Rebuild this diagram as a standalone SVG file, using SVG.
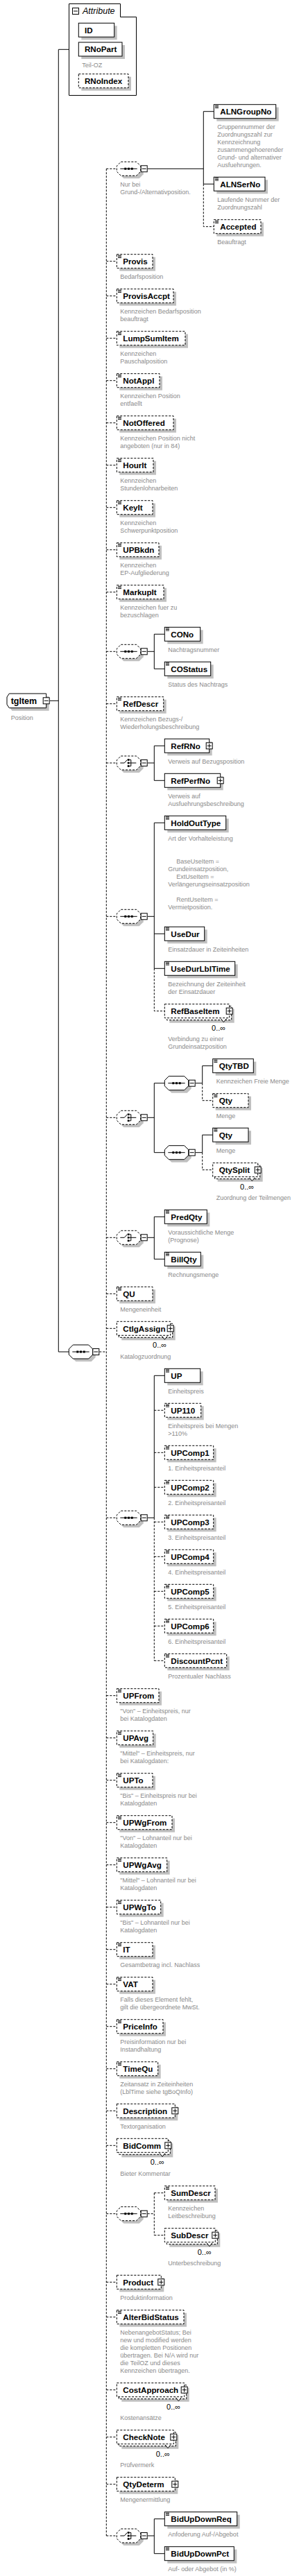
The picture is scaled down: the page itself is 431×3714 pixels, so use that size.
<svg xmlns="http://www.w3.org/2000/svg" xmlns:xlink="http://www.w3.org/1999/xlink" width="431" height="3714" viewBox="0 0 431 3714">
<style>
.nm{font-family:"Liberation Sans",Arial,sans-serif;font-weight:bold;font-size:11.6px;fill:#000}
.ds{font-family:"Liberation Sans",Arial,sans-serif;font-size:9px;fill:#8a8a8a}
.oc{font-family:"Liberation Sans",Arial,sans-serif;font-size:11px;fill:#000;text-anchor:end}
.at{font-family:"Liberation Sans",Arial,sans-serif;font-style:italic;font-size:12.5px;fill:#000}
.bs{fill:#fff;stroke:#000;stroke-width:1}
.bd{fill:#fff;stroke:#000;stroke-width:1;stroke-dasharray:3 2}
.sh{fill:#c0c0c0;stroke:none}
.s{fill:none;stroke:#000;stroke-width:1}
.d{fill:none;stroke:#000;stroke-width:1;stroke-dasharray:3 2}
.nt{fill:#fff;stroke:#000;stroke-width:1}
</style>
<defs>
<g id="ic"><path d="M0,0.5h5M0,2.2h5M0,3.9h5" stroke="#000" stroke-width="0.9" fill="none"/></g>
<g id="mn"><rect x="0.5" y="0.5" width="9" height="9" fill="#fff" stroke="#000"/><path d="M2,5h6" stroke="#000"/></g>
<g id="pl"><rect x="0.5" y="0.5" width="9" height="9" fill="#fff" stroke="#000"/><path d="M2,5h6M5,2v6" stroke="#000"/></g>
<path id="oct" d="M6,-10H28.4L34.4,-4V4L28.4,10H6L0,4V-4Z"/>
<g id="seqI"><path d="M5,0H29.4" stroke="#000" fill="none"/><rect x="11" y="-1.5" width="3" height="3" fill="#000"/><rect x="15.7" y="-1.5" width="3" height="3" fill="#000"/><rect x="20.4" y="-1.5" width="3" height="3" fill="#000"/></g>
<g id="chI"><path d="M5,0H11L15,-4.5M18.2,-4.5H20.5V4.5H18.2M18.2,0H28" stroke="#000" fill="none"/><rect x="15.5" y="-5.85" width="2.7" height="2.7" fill="#000"/><rect x="15.5" y="-1.35" width="2.7" height="2.7" fill="#000"/><rect x="15.5" y="3.15" width="2.7" height="2.7" fill="#000"/></g>
</defs>
<rect x="0" y="0" width="431" height="3714" fill="#fff"/>

<g id="connectors">
<path class="s" d="M71.7,1010.3H84.3M84.3,71.3V1949M84.3,71.3H99.5M84.3,1949H99.3"/>
<path class="d" d="M143.3,1949H153.3M153.3,243.3V3656"/>
<path class="d" d="M153.3,243.3H168.3M153.3,376.7H168.3M153.3,426.7H168.3M153.3,487.7H168.3M153.3,548.7H168.3M153.3,609.7H168.3M153.3,670.7H168.3M153.3,731.7H168.3M153.3,792.7H168.3M153.3,853.7H168.3M153.3,939.3H168.3M153.3,1014.7H168.3M153.3,1100H168.3M153.3,1321.3H168.3M153.3,1611.3H168.3M153.3,1784.3H168.3M153.3,1865.3H168.3M153.3,1915.3H168.3M153.3,2188.3H168.3M153.3,2444.7H168.3M153.3,2505.7H168.3M153.3,2566.7H168.3M153.3,2627.7H168.3M153.3,2688.7H168.3M153.3,2749.7H168.3M153.3,2810.7H168.3M153.3,2860.7H168.3M153.3,2921.7H168.3M153.3,2982.7H168.3M153.3,3043.3H168.3M153.3,3093.3H168.3M153.3,3191.7H168.3M153.3,3290.3H168.3M153.3,3340.7H168.3M153.3,3445.7H168.3M153.3,3513.7H168.3M153.3,3581.7H168.3M153.3,3656H168.3"/>
<path class="s" d="M212.7,243.3H293.3M293.3,160.7V265.3M293.3,160.7H308.3M293.3,265.3H308.3"/>
<path class="d" d="M293.3,265.3V326.7H308.3"/>
<path class="s" d="M212.7,939.3H222.3M222.3,914.3V964.3M222.3,914.3H237.3M222.3,964.3H237.3"/>
<path class="s" d="M212.7,1100H222.3M222.3,1075.3V1125.3M222.3,1075.3H237.3M222.3,1125.3H237.3"/>
<path class="s" d="M212.7,1321.3H222.3M222.3,1186.3V1396.3M222.3,1186.3H237.3M222.3,1346.3H237.3M222.3,1396.3H237.3"/>
<path class="d" d="M222.3,1396.3V1457.7H237.3"/>
<path class="s" d="M212.7,1611.3H222.3M222.3,1561.7V1661.7M222.3,1561.7H237.3M222.3,1661.7H237.3"/>
<path class="s" d="M281.7,1561.7H291.7M291.7,1536.7V1561.7M291.7,1536.7H306.7"/>
<path class="d" d="M291.7,1561.7V1586.7H306.7"/>
<path class="s" d="M281.7,1661.7H291.7M291.7,1636.3V1661.7M291.7,1636.3H306.7"/>
<path class="d" d="M291.7,1661.7V1686.7H306.7"/>
<path class="s" d="M212.7,1784.3H222.3M222.3,1754.3V1815.3M222.3,1754.3H237.3M222.3,1815.3H237.3"/>
<path class="s" d="M212.7,2188.3H222.3M222.3,1983.3V2188.3M222.3,1983.3H237.3"/>
<path class="d" d="M222.3,2188.3V2394.3M222.3,2033.3H237.3M222.3,2094.3H237.3M222.3,2144.3H237.3M222.3,2194.3H237.3M222.3,2244.3H237.3M222.3,2294.3H237.3M222.3,2344.3H237.3M222.3,2394.3H237.3"/>
<path class="d" d="M212.7,3191.7H222.3M222.3,3161.7V3222.7M222.3,3161.7H237.3M222.3,3222.7H237.3"/>
<path class="s" d="M212.7,3656H222.3M222.3,3631.7V3681.7M222.3,3631.7H237.3M222.3,3681.7H237.3"/>
</g>

<g id="attributes">
<path class="bs" d="M99.5,5.5H173.5V24.5H196.5V137.5H99.5Z"/>
<use href="#mn" x="104" y="11"/>
<text class="at" x="119" y="19.5">Attribute</text>
<g id="a-ID"><rect class="sh" x="117.3" y="37.3" width="51.4" height="20"/><rect class="bs" x="113.3" y="33.3" width="51.4" height="20"/><text class="nm" x="122" y="47.6">ID</text></g>
<g id="a-RNoPart"><rect class="sh" x="117.3" y="65" width="62.7" height="20"/><rect class="bs" x="113.3" y="61" width="62.7" height="20"/><text class="nm" x="122" y="75.3">RNoPart</text><text class="ds" x="118.3" y="96.5">Teil-OZ</text></g>
<g id="a-RNoIndex"><rect class="sh" x="117.3" y="110.7" width="71.7" height="20"/><rect class="bd" x="113.3" y="106.7" width="71.7" height="20"/><text class="nm" x="122" y="121">RNoIndex</text></g>
</g>

<g id="n-tgItem">
<path class="sh" d="M17.3,1004H70.7V1024.7H17.3L14,1019.7V1009Z"/>
<path class="bs" d="M13.3,1000H66.7V1020.7H13.3L10,1015.7V1005Z"/>
<text class="nm" style="font-size:12.5px" x="15.7" y="1014.8">tgItem</text>
<use href="#mn" x="61.7" y="1005.3"/>
<text class="ds" x="15.7" y="1038">Position</text>
</g>

<g id="seq-main"><use href="#oct" class="sh" x="103.3" y="1953"/><use href="#oct" class="bs" x="99.3" y="1949"/><use href="#seqI" x="99.3" y="1949"/><use href="#mn" x="133.3" y="1944"/></g>

<g id="seq-ALN"><use href="#oct" class="sh" x="172.3" y="247.3"/><use href="#oct" class="bd" x="168.3" y="243.3"/><use href="#seqI" x="168.3" y="243.3"/><use href="#mn" x="202.7" y="238.3"/><text class="ds" x="173.3" y="269">Nur bei</text><text class="ds" x="173.3" y="280">Grund-/Alternativposition.</text></g>

<g id="n-ALNGroupNo"><rect class="sh" x="312.3" y="154.7" width="89.4" height="20"/><rect class="bs" x="308.3" y="150.7" width="89.4" height="20"/><use href="#ic" x="310" y="151.7"/><text class="nm" x="317.3" y="165">ALNGroupNo</text><text class="ds" x="313.3" y="186">Gruppennummer der</text><text class="ds" x="313.3" y="197">Zuordnungszahl zur</text><text class="ds" x="313.3" y="208">Kennzeichnung</text><text class="ds" x="313.3" y="219">zusammengehoerender</text><text class="ds" x="313.3" y="230">Grund- und alternativer</text><text class="ds" x="313.3" y="241">Ausfuehrungen.</text></g>
<g id="n-ALNSerNo"><rect class="sh" x="312.3" y="259.3" width="73.7" height="20"/><rect class="bs" x="308.3" y="255.3" width="73.7" height="20"/><use href="#ic" x="310" y="256.3"/><text class="nm" x="317.3" y="269.6">ALNSerNo</text><text class="ds" x="313.3" y="290.6">Laufende Nummer der</text><text class="ds" x="313.3" y="301.6">Zuordnungszahl</text></g>
<g id="n-Accepted"><rect class="sh" x="312.3" y="320.7" width="67.7" height="20"/><rect class="bd" x="308.3" y="316.7" width="67.7" height="20"/><use href="#ic" x="310" y="317.7"/><text class="nm" x="317.3" y="331">Accepted</text><text class="ds" x="313.3" y="352">Beauftragt</text></g>

<g id="n-Provis"><rect class="sh" x="172.3" y="370.7" width="51.7" height="20"/><rect class="bd" x="168.3" y="366.7" width="51.7" height="20"/><use href="#ic" x="170" y="367.7"/><text class="nm" x="177.3" y="381">Provis</text><text class="ds" x="173.3" y="402">Bedarfsposition</text></g>
<g id="n-ProvisAccpt"><rect class="sh" x="172.3" y="420.7" width="81.7" height="20"/><rect class="bd" x="168.3" y="416.7" width="81.7" height="20"/><use href="#ic" x="170" y="417.7"/><text class="nm" x="177.3" y="431">ProvisAccpt</text><text class="ds" x="173.3" y="452">Kennzeichen Bedarfsposition</text><text class="ds" x="173.3" y="463">beauftragt</text></g>
<g id="n-LumpSumItem"><rect class="sh" x="172.3" y="481.7" width="98.7" height="20"/><rect class="bd" x="168.3" y="477.7" width="98.7" height="20"/><use href="#ic" x="170" y="478.7"/><text class="nm" x="177.3" y="492">LumpSumItem</text><text class="ds" x="173.3" y="513">Kennzeichen</text><text class="ds" x="173.3" y="524">Pauschalposition</text></g>
<g id="n-NotAppl"><rect class="sh" x="172.3" y="542.7" width="61.7" height="20"/><rect class="bd" x="168.3" y="538.7" width="61.7" height="20"/><use href="#ic" x="170" y="539.7"/><text class="nm" x="177.3" y="553">NotAppl</text><text class="ds" x="173.3" y="574">Kennzeichen Position</text><text class="ds" x="173.3" y="585">entfaellt</text></g>
<g id="n-NotOffered"><rect class="sh" x="172.3" y="603.7" width="81.7" height="20"/><rect class="bd" x="168.3" y="599.7" width="81.7" height="20"/><use href="#ic" x="170" y="600.7"/><text class="nm" x="177.3" y="614">NotOffered</text><text class="ds" x="173.3" y="635">Kennzeichen Position nicht</text><text class="ds" x="173.3" y="646">angeboten (nur in 84)</text></g>
<g id="n-HourIt"><rect class="sh" x="172.3" y="664.7" width="52.7" height="20"/><rect class="bd" x="168.3" y="660.7" width="52.7" height="20"/><use href="#ic" x="170" y="661.7"/><text class="nm" x="177.3" y="675">HourIt</text><text class="ds" x="173.3" y="696">Kennzeichen</text><text class="ds" x="173.3" y="707">Stundenlohnarbeiten</text></g>
<g id="n-KeyIt"><rect class="sh" x="172.3" y="725.7" width="51.7" height="20"/><rect class="bd" x="168.3" y="721.7" width="51.7" height="20"/><use href="#ic" x="170" y="722.7"/><text class="nm" x="177.3" y="736">KeyIt</text><text class="ds" x="173.3" y="757">Kennzeichen</text><text class="ds" x="173.3" y="768">Schwerpunktposition</text></g>
<g id="n-UPBkdn"><rect class="sh" x="172.3" y="786.7" width="60.7" height="20"/><rect class="bd" x="168.3" y="782.7" width="60.7" height="20"/><use href="#ic" x="170" y="783.7"/><text class="nm" x="177.3" y="797">UPBkdn</text><text class="ds" x="173.3" y="818">Kennzeichen</text><text class="ds" x="173.3" y="829">EP-Aufgliederung</text></g>
<g id="n-MarkupIt"><rect class="sh" x="172.3" y="847.7" width="67.7" height="20"/><rect class="bd" x="168.3" y="843.7" width="67.7" height="20"/><use href="#ic" x="170" y="844.7"/><text class="nm" x="177.3" y="858">MarkupIt</text><text class="ds" x="173.3" y="879">Kennzeichen fuer zu</text><text class="ds" x="173.3" y="890">bezuschlagen</text></g>

<g id="seq-CONo"><use href="#oct" class="sh" x="172.3" y="943.3"/><use href="#oct" class="bd" x="168.3" y="939.3"/><use href="#seqI" x="168.3" y="939.3"/><use href="#mn" x="202.7" y="934.3"/></g>
<g id="n-CONo"><rect class="sh" x="241.3" y="908.3" width="51.4" height="20"/><rect class="bs" x="237.3" y="904.3" width="51.4" height="20"/><use href="#ic" x="239" y="905.3"/><text class="nm" x="246.3" y="918.6">CONo</text><text class="ds" x="242.3" y="939.6">Nachtragsnummer</text></g>
<g id="n-COStatus"><rect class="sh" x="241.3" y="958.3" width="66.4" height="20"/><rect class="bs" x="237.3" y="954.3" width="66.4" height="20"/><use href="#ic" x="239" y="955.3"/><text class="nm" x="246.3" y="968.6">COStatus</text><text class="ds" x="242.3" y="989.6">Status des Nachtrags</text></g>

<g id="n-RefDescr"><rect class="sh" x="172.3" y="1008.7" width="67.4" height="20"/><rect class="bd" x="168.3" y="1004.7" width="67.4" height="20"/><use href="#ic" x="170" y="1005.7"/><text class="nm" x="177.3" y="1019">RefDescr</text><text class="ds" x="173.3" y="1040">Kennzeichen Bezugs-/</text><text class="ds" x="173.3" y="1051">Wiederholungsbeschreibung</text></g>

<g id="choice-Ref"><use href="#oct" class="sh" x="172.3" y="1104"/><use href="#oct" class="bd" x="168.3" y="1100"/><use href="#chI" x="168.3" y="1100"/><use href="#mn" x="202.7" y="1095"/></g>
<g id="n-RefRNo"><rect class="sh" x="241.3" y="1069.3" width="64.4" height="20"/><rect class="bs" x="237.3" y="1065.3" width="64.4" height="20"/><text class="nm" x="246.3" y="1079.6">RefRNo</text><use href="#pl" x="296.7" y="1070.3"/><text class="ds" x="242.3" y="1100.6">Verweis auf Bezugsposition</text></g>
<g id="n-RefPerfNo"><rect class="sh" x="241.3" y="1119.3" width="80.4" height="20"/><rect class="bs" x="237.3" y="1115.3" width="80.4" height="20"/><text class="nm" x="246.3" y="1129.6">RefPerfNo</text><use href="#pl" x="312.7" y="1120.3"/><text class="ds" x="242.3" y="1150.6">Verweis auf</text><text class="ds" x="242.3" y="1161.6">Ausfuehrungsbeschreibung</text></g>

<g id="seq-HoldOut"><use href="#oct" class="sh" x="172.3" y="1325.3"/><use href="#oct" class="bd" x="168.3" y="1321.3"/><use href="#seqI" x="168.3" y="1321.3"/><use href="#mn" x="202.7" y="1316.3"/></g>
<g id="n-HoldOutType"><rect class="sh" x="241.3" y="1180.3" width="88.4" height="20"/><rect class="bs" x="237.3" y="1176.3" width="88.4" height="20"/><use href="#ic" x="239" y="1177.3"/><text class="nm" x="246.3" y="1190.6">HoldOutType</text><text class="ds" x="242.3" y="1211.6">Art der Vorhalteleistung</text><text class="ds" x="254.3" y="1244.6">BaseUseItem =</text><text class="ds" x="242.3" y="1255.6">Grundeinsatzposition,</text><text class="ds" x="254.3" y="1266.6">ExtUseItem =</text><text class="ds" x="242.3" y="1277.6">Verlängerungseinsatzposition</text><text class="ds" x="254.3" y="1299.6">RentUseItem =</text><text class="ds" x="242.3" y="1310.6">Vermietposition.</text></g>
<g id="n-UseDur"><rect class="sh" x="241.3" y="1340.3" width="57.4" height="20"/><rect class="bs" x="237.3" y="1336.3" width="57.4" height="20"/><use href="#ic" x="239" y="1337.3"/><text class="nm" x="246.3" y="1350.6">UseDur</text><text class="ds" x="242.3" y="1371.6">Einsatzdauer in Zeiteinheiten</text></g>
<g id="n-UseDurLblTime"><rect class="sh" x="241.3" y="1390.3" width="101.4" height="20"/><rect class="bs" x="237.3" y="1386.3" width="101.4" height="20"/><use href="#ic" x="239" y="1387.3"/><text class="nm" x="246.3" y="1400.6">UseDurLblTime</text><text class="ds" x="242.3" y="1421.6">Bezeichnung der Zeiteinheit</text><text class="ds" x="242.3" y="1432.6">der Einsatzdauer</text></g>
<g id="n-RefBaseItem"><rect class="sh" x="244.3" y="1454.7" width="93.4" height="20"/><rect class="bd" x="240.3" y="1450.7" width="93.4" height="20"/><rect class="bd" x="237.3" y="1447.7" width="93.4" height="20"/><path class="nt" d="M318.4,1468.7L322.4,1473.7L326.4,1468.7"/><text class="nm" x="246.3" y="1462">RefBaseItem</text><use href="#pl" x="325.7" y="1452.7"/><text class="oc" x="325.2" y="1485.7">0..∞</text><text class="ds" x="242.3" y="1501.2">Verbindung zu einer</text><text class="ds" x="242.3" y="1512.2">Grundeinsatzposition</text></g>

<g id="choice-Qty"><use href="#oct" class="sh" x="172.3" y="1615.3"/><use href="#oct" class="bd" x="168.3" y="1611.3"/><use href="#chI" x="168.3" y="1611.3"/><use href="#mn" x="202.7" y="1606.3"/></g>
<g id="seq-QtyTBD"><use href="#oct" class="sh" x="241.3" y="1565.7"/><use href="#oct" class="bs" x="237.3" y="1561.7"/><use href="#seqI" x="237.3" y="1561.7"/><use href="#mn" x="271.7" y="1556.7"/></g>
<g id="n-QtyTBD"><rect class="sh" x="310.7" y="1530.7" width="58.6" height="20"/><rect class="bs" x="306.7" y="1526.7" width="58.6" height="20"/><use href="#ic" x="308.4" y="1527.7"/><text class="nm" x="315.7" y="1541">QtyTBD</text><text class="ds" x="311.7" y="1562">Kennzeichen Freie Menge</text></g>
<g id="n-Qty-1"><rect class="sh" x="310.7" y="1580.7" width="51.3" height="20"/><rect class="bd" x="306.7" y="1576.7" width="51.3" height="20"/><use href="#ic" x="308.4" y="1577.7"/><text class="nm" x="315.7" y="1591">Qty</text><text class="ds" x="311.7" y="1612">Menge</text></g>
<g id="seq-QtySplit"><use href="#oct" class="sh" x="241.3" y="1665.7"/><use href="#oct" class="bs" x="237.3" y="1661.7"/><use href="#seqI" x="237.3" y="1661.7"/><use href="#mn" x="271.7" y="1656.7"/></g>
<g id="n-Qty-2"><rect class="sh" x="310.7" y="1630.3" width="51.3" height="20"/><rect class="bs" x="306.7" y="1626.3" width="51.3" height="20"/><use href="#ic" x="308.4" y="1627.3"/><text class="nm" x="315.7" y="1640.6">Qty</text><text class="ds" x="311.7" y="1661.6">Menge</text></g>
<g id="n-QtySplit"><rect class="sh" x="313.7" y="1683.7" width="65" height="20"/><rect class="bd" x="309.7" y="1679.7" width="65" height="20"/><rect class="bd" x="306.7" y="1676.7" width="65" height="20"/><path class="nt" d="M359.4,1697.7L363.4,1702.7L367.4,1697.7"/><text class="nm" x="315.7" y="1691">QtySplit</text><use href="#pl" x="366.7" y="1681.7"/><text class="oc" x="366.2" y="1714.7">0..∞</text><text class="ds" x="311.7" y="1730.2">Zuordnung der Teilmengen</text></g>

<g id="choice-Pred"><use href="#oct" class="sh" x="172.3" y="1788.3"/><use href="#oct" class="bd" x="168.3" y="1784.3"/><use href="#chI" x="168.3" y="1784.3"/><use href="#mn" x="202.7" y="1779.3"/></g>
<g id="n-PredQty"><rect class="sh" x="241.3" y="1748.3" width="61" height="20"/><rect class="bs" x="237.3" y="1744.3" width="61" height="20"/><use href="#ic" x="239" y="1745.3"/><text class="nm" x="246.3" y="1758.6">PredQty</text><text class="ds" x="242.3" y="1779.6">Voraussichtliche Menge</text><text class="ds" x="242.3" y="1790.6">(Prognose)</text></g>
<g id="n-BillQty"><rect class="sh" x="241.3" y="1809.3" width="52" height="20"/><rect class="bs" x="237.3" y="1805.3" width="52" height="20"/><use href="#ic" x="239" y="1806.3"/><text class="nm" x="246.3" y="1819.6">BillQty</text><text class="ds" x="242.3" y="1840.6">Rechnungsmenge</text></g>

<g id="n-QU"><rect class="sh" x="172.3" y="1859.3" width="51.7" height="20"/><rect class="bd" x="168.3" y="1855.3" width="51.7" height="20"/><use href="#ic" x="170" y="1856.3"/><text class="nm" x="177.3" y="1869.6">QU</text><text class="ds" x="173.3" y="1890.6">Mengeneinheit</text></g>
<g id="n-CtlgAssign"><rect class="sh" x="175.3" y="1912.3" width="77.4" height="20"/><rect class="bd" x="171.3" y="1908.3" width="77.4" height="20"/><rect class="bd" x="168.3" y="1905.3" width="77.4" height="20"/><path class="nt" d="M233.4,1926.3L237.4,1931.3L241.4,1926.3"/><text class="nm" x="177.3" y="1919.6">CtlgAssign</text><use href="#pl" x="240.7" y="1910.3"/><text class="oc" x="240.2" y="1943.3">0..∞</text><text class="ds" x="173.3" y="1958.8">Katalogzuordnung</text></g>

<g id="seq-UP"><use href="#oct" class="sh" x="172.3" y="2192.3"/><use href="#oct" class="bd" x="168.3" y="2188.3"/><use href="#seqI" x="168.3" y="2188.3"/><use href="#mn" x="202.7" y="2183.3"/></g>
<g id="n-UP"><rect class="sh" x="241.3" y="1977.3" width="51.4" height="20"/><rect class="bs" x="237.3" y="1973.3" width="51.4" height="20"/><use href="#ic" x="239" y="1974.3"/><text class="nm" x="246.3" y="1987.6">UP</text><text class="ds" x="242.3" y="2008.6">Einheitspreis</text></g>
<g id="n-UP110"><rect class="sh" x="241.3" y="2027.3" width="52.4" height="20"/><rect class="bd" x="237.3" y="2023.3" width="52.4" height="20"/><use href="#ic" x="239" y="2024.3"/><text class="nm" x="246.3" y="2037.6">UP110</text><text class="ds" x="242.3" y="2058.6">Einheitspreis bei Mengen</text><text class="ds" x="242.3" y="2069.6">&gt;110%</text></g>
<g id="n-UPComp1"><rect class="sh" x="241.3" y="2088.3" width="70.4" height="20"/><rect class="bd" x="237.3" y="2084.3" width="70.4" height="20"/><use href="#ic" x="239" y="2085.3"/><text class="nm" x="246.3" y="2098.6">UPComp1</text><text class="ds" x="242.3" y="2119.6">1. Einheitspreisanteil</text></g>
<g id="n-UPComp2"><rect class="sh" x="241.3" y="2138.3" width="70.4" height="20"/><rect class="bd" x="237.3" y="2134.3" width="70.4" height="20"/><use href="#ic" x="239" y="2135.3"/><text class="nm" x="246.3" y="2148.6">UPComp2</text><text class="ds" x="242.3" y="2169.6">2. Einheitspreisanteil</text></g>
<g id="n-UPComp3"><rect class="sh" x="241.3" y="2188.3" width="70.4" height="20"/><rect class="bd" x="237.3" y="2184.3" width="70.4" height="20"/><use href="#ic" x="239" y="2185.3"/><text class="nm" x="246.3" y="2198.6">UPComp3</text><text class="ds" x="242.3" y="2219.6">3. Einheitspreisanteil</text></g>
<g id="n-UPComp4"><rect class="sh" x="241.3" y="2238.3" width="70.4" height="20"/><rect class="bd" x="237.3" y="2234.3" width="70.4" height="20"/><use href="#ic" x="239" y="2235.3"/><text class="nm" x="246.3" y="2248.6">UPComp4</text><text class="ds" x="242.3" y="2269.6">4. Einheitspreisanteil</text></g>
<g id="n-UPComp5"><rect class="sh" x="241.3" y="2288.3" width="70.4" height="20"/><rect class="bd" x="237.3" y="2284.3" width="70.4" height="20"/><use href="#ic" x="239" y="2285.3"/><text class="nm" x="246.3" y="2298.6">UPComp5</text><text class="ds" x="242.3" y="2319.6">5. Einheitspreisanteil</text></g>
<g id="n-UPComp6"><rect class="sh" x="241.3" y="2338.3" width="70.4" height="20"/><rect class="bd" x="237.3" y="2334.3" width="70.4" height="20"/><use href="#ic" x="239" y="2335.3"/><text class="nm" x="246.3" y="2348.6">UPComp6</text><text class="ds" x="242.3" y="2369.6">6. Einheitspreisanteil</text></g>
<g id="n-DiscountPcnt"><rect class="sh" x="241.3" y="2388.3" width="89.4" height="20"/><rect class="bd" x="237.3" y="2384.3" width="89.4" height="20"/><use href="#ic" x="239" y="2385.3"/><text class="nm" x="246.3" y="2398.6">DiscountPcnt</text><text class="ds" x="242.3" y="2419.6">Prozentualer Nachlass</text></g>

<g id="n-UPFrom"><rect class="sh" x="172.3" y="2438.7" width="60.7" height="20"/><rect class="bd" x="168.3" y="2434.7" width="60.7" height="20"/><use href="#ic" x="170" y="2435.7"/><text class="nm" x="177.3" y="2449">UPFrom</text><text class="ds" x="173.3" y="2470">"Von" – Einheitspreis, nur</text><text class="ds" x="173.3" y="2481">bei Katalogdaten</text></g>
<g id="n-UPAvg"><rect class="sh" x="172.3" y="2499.7" width="52.4" height="20"/><rect class="bd" x="168.3" y="2495.7" width="52.4" height="20"/><use href="#ic" x="170" y="2496.7"/><text class="nm" x="177.3" y="2510">UPAvg</text><text class="ds" x="173.3" y="2531">"Mittel" – Einheitspreis, nur</text><text class="ds" x="173.3" y="2542">bei Katalogdaten:</text></g>
<g id="n-UPTo"><rect class="sh" x="172.3" y="2560.7" width="51.7" height="20"/><rect class="bd" x="168.3" y="2556.7" width="51.7" height="20"/><use href="#ic" x="170" y="2557.7"/><text class="nm" x="177.3" y="2571">UPTo</text><text class="ds" x="173.3" y="2592">"Bis" – Einheitspreis nur bei</text><text class="ds" x="173.3" y="2603">Katalogdaten</text></g>
<g id="n-UPWgFrom"><rect class="sh" x="172.3" y="2621.7" width="79.7" height="20"/><rect class="bd" x="168.3" y="2617.7" width="79.7" height="20"/><use href="#ic" x="170" y="2618.7"/><text class="nm" x="177.3" y="2632">UPWgFrom</text><text class="ds" x="173.3" y="2653">"Von" – Lohnanteil nur bei</text><text class="ds" x="173.3" y="2664">Katalogdaten</text></g>
<g id="n-UPWgAvg"><rect class="sh" x="172.3" y="2682.7" width="72.4" height="20"/><rect class="bd" x="168.3" y="2678.7" width="72.4" height="20"/><use href="#ic" x="170" y="2679.7"/><text class="nm" x="177.3" y="2693">UPWgAvg</text><text class="ds" x="173.3" y="2714">"Mittel" – Lohnanteil nur bei</text><text class="ds" x="173.3" y="2725">Katalogdaten</text></g>
<g id="n-UPWgTo"><rect class="sh" x="172.3" y="2743.7" width="63.4" height="20"/><rect class="bd" x="168.3" y="2739.7" width="63.4" height="20"/><use href="#ic" x="170" y="2740.7"/><text class="nm" x="177.3" y="2754">UPWgTo</text><text class="ds" x="173.3" y="2775">"Bis" – Lohnanteil nur bei</text><text class="ds" x="173.3" y="2786">Katalogdaten</text></g>
<g id="n-IT"><rect class="sh" x="172.3" y="2804.7" width="51.7" height="20"/><rect class="bd" x="168.3" y="2800.7" width="51.7" height="20"/><use href="#ic" x="170" y="2801.7"/><text class="nm" x="177.3" y="2815">IT</text><text class="ds" x="173.3" y="2836">Gesamtbetrag incl. Nachlass</text></g>
<g id="n-VAT"><rect class="sh" x="172.3" y="2854.7" width="51.7" height="20"/><rect class="bd" x="168.3" y="2850.7" width="51.7" height="20"/><use href="#ic" x="170" y="2851.7"/><text class="nm" x="177.3" y="2865">VAT</text><text class="ds" x="173.3" y="2886">Falls dieses Element fehlt,</text><text class="ds" x="173.3" y="2897">gilt die übergeordnete MwSt.</text></g>
<g id="n-PriceInfo"><rect class="sh" x="172.3" y="2915.7" width="66.7" height="20"/><rect class="bd" x="168.3" y="2911.7" width="66.7" height="20"/><use href="#ic" x="170" y="2912.7"/><text class="nm" x="177.3" y="2926">PriceInfo</text><text class="ds" x="173.3" y="2947">Preisinformation nur bei</text><text class="ds" x="173.3" y="2958">Instandhaltung</text></g>
<g id="n-TimeQu"><rect class="sh" x="172.3" y="2976.7" width="59.4" height="20"/><rect class="bd" x="168.3" y="2972.7" width="59.4" height="20"/><use href="#ic" x="170" y="2973.7"/><text class="nm" x="177.3" y="2987">TimeQu</text><text class="ds" x="173.3" y="3008">Zeitansatz in Zeiteinheiten</text><text class="ds" x="173.3" y="3019">(LblTime siehe tgBoQInfo)</text></g>
<g id="n-Description"><rect class="sh" x="172.3" y="3037.3" width="84" height="20"/><rect class="bd" x="168.3" y="3033.3" width="84" height="20"/><text class="nm" x="177.3" y="3047.6">Description</text><use href="#pl" x="247.3" y="3038.3"/><text class="ds" x="173.3" y="3068.6">Textorganisation</text></g>
<g id="n-BidComm"><rect class="sh" x="175.3" y="3090.3" width="74" height="20"/><rect class="bd" x="171.3" y="3086.3" width="74" height="20"/><rect class="bd" x="168.3" y="3083.3" width="74" height="20"/><path class="nt" d="M230,3104.3L234,3109.3L238,3104.3"/><text class="nm" x="177.3" y="3097.6">BidComm</text><use href="#pl" x="237.3" y="3088.3"/><text class="oc" x="236.8" y="3121.3">0..∞</text><text class="ds" x="173.3" y="3136.8">Bieter Kommentar</text></g>

<g id="seq-Sum"><use href="#oct" class="sh" x="172.3" y="3195.7"/><use href="#oct" class="bd" x="168.3" y="3191.7"/><use href="#seqI" x="168.3" y="3191.7"/><use href="#mn" x="202.7" y="3186.7"/></g>
<g id="n-SumDescr"><rect class="sh" x="241.3" y="3155.7" width="72.7" height="20"/><rect class="bd" x="237.3" y="3151.7" width="72.7" height="20"/><use href="#ic" x="239" y="3152.7"/><text class="nm" x="246.3" y="3166">SumDescr</text><text class="ds" x="242.3" y="3187">Kennzeichen</text><text class="ds" x="242.3" y="3198">Leitbeschreibung</text></g>
<g id="n-SubDescr"><rect class="sh" x="244.3" y="3219.7" width="73" height="20"/><rect class="bd" x="240.3" y="3215.7" width="73" height="20"/><rect class="bd" x="237.3" y="3212.7" width="73" height="20"/><path class="nt" d="M298,3233.7L302,3238.7L306,3233.7"/><text class="nm" x="246.3" y="3227">SubDescr</text><use href="#pl" x="305.3" y="3217.7"/><text class="oc" x="304.8" y="3250.7">0..∞</text><text class="ds" x="242.3" y="3266.2">Unterbeschreibung</text></g>

<g id="n-Product"><rect class="sh" x="172.3" y="3284.3" width="64" height="20"/><rect class="bd" x="168.3" y="3280.3" width="64" height="20"/><text class="nm" x="177.3" y="3294.6">Product</text><use href="#pl" x="227.3" y="3285.3"/><text class="ds" x="173.3" y="3315.6">Produktinformation</text></g>
<g id="n-AlterBidStatus"><rect class="sh" x="172.3" y="3334.7" width="96.7" height="20"/><rect class="bd" x="168.3" y="3330.7" width="96.7" height="20"/><use href="#ic" x="170" y="3331.7"/><text class="nm" x="177.3" y="3345">AlterBidStatus</text><text class="ds" x="173.3" y="3366">NebenangebotStatus; Bei</text><text class="ds" x="173.3" y="3377">new und modified werden</text><text class="ds" x="173.3" y="3388">die kompletten Positionen</text><text class="ds" x="173.3" y="3399">übertragen. Bei N/A wird nur</text><text class="ds" x="173.3" y="3410">die TeilOZ und dieses</text><text class="ds" x="173.3" y="3421">Kennzeichen übertragen.</text></g>
<g id="n-CostApproach"><rect class="sh" x="175.3" y="3442.7" width="97.4" height="20"/><rect class="bd" x="171.3" y="3438.7" width="97.4" height="20"/><rect class="bd" x="168.3" y="3435.7" width="97.4" height="20"/><path class="nt" d="M253.4,3456.7L257.4,3461.7L261.4,3456.7"/><text class="nm" x="177.3" y="3450">CostApproach</text><use href="#pl" x="260.7" y="3440.7"/><text class="oc" x="260.2" y="3473.7">0..∞</text><text class="ds" x="173.3" y="3489.2">Kostenansätze</text></g>
<g id="n-CheckNote"><rect class="sh" x="175.3" y="3510.7" width="82" height="20"/><rect class="bd" x="171.3" y="3506.7" width="82" height="20"/><rect class="bd" x="168.3" y="3503.7" width="82" height="20"/><path class="nt" d="M238,3524.7L242,3529.7L246,3524.7"/><text class="nm" x="177.3" y="3518">CheckNote</text><use href="#pl" x="245.3" y="3508.7"/><text class="oc" x="244.8" y="3541.7">0..∞</text><text class="ds" x="173.3" y="3557.2">Prüfvermerk</text></g>
<g id="n-QtyDeterm"><rect class="sh" x="172.3" y="3575.7" width="84" height="20"/><rect class="bd" x="168.3" y="3571.7" width="84" height="20"/><text class="nm" x="177.3" y="3586">QtyDeterm</text><use href="#pl" x="247.3" y="3576.7"/><text class="ds" x="173.3" y="3607">Mengenermittlung</text></g>

<g id="choice-Bid"><use href="#oct" class="sh" x="172.3" y="3660"/><use href="#oct" class="bd" x="168.3" y="3656"/><use href="#chI" x="168.3" y="3656"/><use href="#mn" x="202.7" y="3651"/></g>
<g id="n-BidUpDownReq"><rect class="sh" x="241.3" y="3625.7" width="104.4" height="20"/><rect class="bs" x="237.3" y="3621.7" width="104.4" height="20"/><use href="#ic" x="239" y="3622.7"/><text class="nm" x="246.3" y="3636">BidUpDownReq</text><text class="ds" x="242.3" y="3657">Anfoderung Auf-/Abgebot</text></g>
<g id="n-BidUpDownPct"><rect class="sh" x="241.3" y="3675.7" width="100" height="20"/><rect class="bs" x="237.3" y="3671.7" width="100" height="20"/><use href="#ic" x="239" y="3672.7"/><text class="nm" x="246.3" y="3686">BidUpDownPct</text><text class="ds" x="242.3" y="3707">Auf- oder Abgebot (in %)</text></g>
</svg>
